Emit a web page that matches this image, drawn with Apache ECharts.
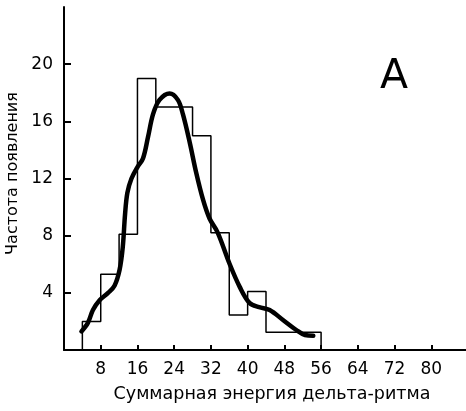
<!DOCTYPE html>
<html>
<head>
<meta charset="utf-8">
<script src="https://cdn.jsdelivr.net/npm/echarts@6/dist/echarts.min.js"></script>
<style>
html,body{margin:0;padding:0;background:#fff;}
#chart{width:466px;height:411px;}
</style>
</head>
<body>
<div id="chart"></div>
<script>
// Histogram bins (left edges) and counts
var binEdges = [4, 8, 12, 16, 20, 24, 28, 32, 36, 40, 44, 48, 52, 56];
var binCounts = [2, 5.3, 8.1, 19, 17, 17, 15, 8.2, 2.45, 4.1, 1.25, 1.25, 1.25];
// Smoothed curve
var curveX = [3.8, 5.2, 6.3, 7.8, 9.6, 11.0, 12.1, 12.8, 13.3, 13.8, 14.7, 16.0, 17.2, 18.3, 19.4, 20.8, 23.0, 24.8, 25.9, 27.4, 28.8, 30.3, 31.7, 33.5, 36.1, 38.3, 40.4, 42.5, 44.8, 47.7, 50.6, 52.5, 54.3];
var curveY = [1.3, 1.9, 2.8, 3.5, 4.0, 4.5, 5.6, 7.2, 9.5, 11.0, 12.0, 12.8, 13.4, 14.9, 16.5, 17.5, 17.95, 17.5, 16.5, 14.5, 12.4, 10.5, 9.2, 8.2, 6.0, 4.4, 3.3, 3.0, 2.8, 2.1, 1.4, 1.05, 1.0];
var xTicks = [8, 16, 24, 32, 40, 48, 56, 64, 72, 80];
var yTicks = [4, 8, 12, 16, 20];
var xName = 'Суммарная энергия дельта-ритма';
var yName = 'Частота появления';
var panelLabel = 'A';

var histData = [[binEdges[0], 0]];
for (var i = 0; i < binCounts.length; i++) {
  histData.push([binEdges[i + 1], binCounts[i]]);
}
histData.push([binEdges[binEdges.length - 1], 0]);

var curveData = curveX.map(function (x, i) { return [x, curveY[i]]; });

var FONT = 'DejaVu Sans';
var chart = echarts.init(document.getElementById('chart'), null, {renderer: 'canvas'});
chart.setOption({
  animation: false,
  backgroundColor: '#fff',
  grid: {left: 64, top: 7, width: 404, height: 343, containLabel: false, outerBoundsMode: 'none'},
  xAxis: {
    type: 'value', min: 0, max: 88, interval: 8,
    name: xName, nameLocation: 'middle', nameGap: 35,
    nameTextStyle: {fontFamily: FONT, fontSize: 17.5, color: '#000', padding: [0, 0, 0, 12]},
    axisLine: {show: true, onZero: false, lineStyle: {color: '#000', width: 2}},
    axisTick: {show: true, inside: true, length: 5, customValues: xTicks, lineStyle: {color: '#000', width: 2}},
    axisLabel: {customValues: xTicks, fontFamily: FONT, fontSize: 17, color: '#000', margin: 11},
    splitLine: {show: false}
  },
  yAxis: {
    type: 'value', min: 0, max: 24, interval: 4,
    name: yName, nameLocation: 'middle', nameGap: 38, nameRotate: 90,
    nameTextStyle: {fontFamily: FONT, fontSize: 16, color: '#000', padding: [0, 0, 0, 10]},
    axisLine: {show: true, onZero: false, lineStyle: {color: '#000', width: 2}},
    axisTick: {show: true, inside: true, length: 7, customValues: yTicks, lineStyle: {color: '#000', width: 2}},
    axisLabel: {customValues: yTicks, fontFamily: FONT, fontSize: 17, color: '#000', margin: 11},
    splitLine: {show: false}
  },
  graphic: [{
    type: 'text', left: 380, top: 57,
    style: {text: panelLabel, font: '41px "DejaVu Sans"', fill: '#000'}
  }],
  series: [{
    type: 'line', data: histData, step: 'start', symbol: 'none',
    lineStyle: {color: '#000', width: 1.5}, z: 2
  }, {
    type: 'line', data: curveData, smooth: 0.35, symbol: 'none',
    lineStyle: {color: '#000', width: 4.5, cap: 'round', join: 'round'}, z: 3
  }]
});
</script>
</body>
</html>
